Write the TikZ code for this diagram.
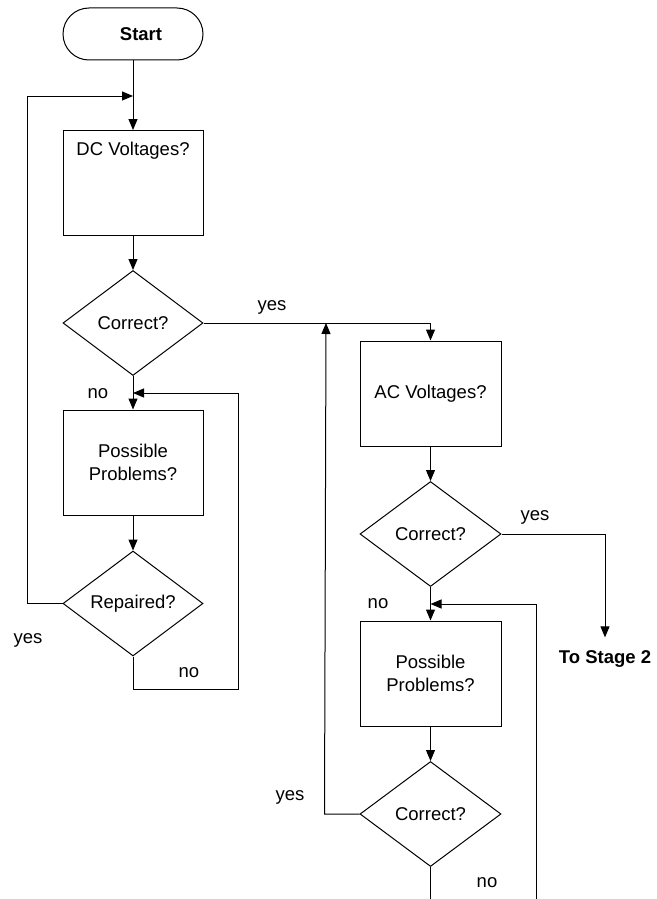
\documentclass[tikz,border=0pt]{standalone}
\usepackage{fontspec}
\setmainfont{Liberation Sans}
\usetikzlibrary{arrows.meta,shapes.geometric}
\begin{document}
\begin{tikzpicture}[x=1pt,y=-1pt,
  every node/.style={font=\fontsize{18.5}{22.5}\selectfont},
  line/.style={line width=1pt, draw=black},
  arr/.style={line, -{Triangle[length=11pt,width=9pt]}},
  stepbox/.style={draw, line width=1pt, rectangle, minimum width=140pt, minimum height=105pt, inner sep=0pt, align=center},
  topbox/.style={draw, line width=1pt, rectangle, minimum width=140pt, inner sep=4pt, text height=21pt, text depth=76pt, anchor=north},
  decision/.style={draw, line width=1pt, diamond, shape aspect=1.333, minimum width=140pt, minimum height=105pt, inner sep=0pt},
  term/.style={draw, line width=1pt, rectangle, rounded corners=26pt, minimum width=140pt, minimum height=52pt, inner sep=0pt, font=\fontsize{18.5}{22.5}\selectfont\bfseries},
  lbl/.style={inner sep=0pt}
]
\useasboundingbox (0,0) rectangle (656,899);

% left column
\node[term] (start) at (133,34) {\hspace{16pt}Start};
\node[topbox] (dc) at (133,130) {DC Voltages?};
\node[decision] (d1) at (133,323) {Correct?};
\node[stepbox] (pp1) at (133,462.5) {Possible\\Problems?};
\node[decision] (rep) at (133,603.5) {Repaired?};

% right column
\node[stepbox, minimum width=141pt] (ac) at (430.5,393.5) {AC Voltages?};
\node[decision, minimum width=141pt] (d3) at (430.5,534) {Correct?};
\node[stepbox, minimum width=141pt] (pp2) at (430.5,673.5) {Possible\\Problems?};
\node[decision, minimum width=141pt] (d4) at (430.5,814) {Correct?};
\node[anchor=base, inner xsep=0pt, inner ysep=12.5pt, font=\fontsize{18.5}{22.5}\selectfont\bfseries] (stage) at (605,663) {To Stage 2};

% junction / free-end coordinates
\coordinate (j1) at (133,96);
\coordinate (j2) at (133,393);
\coordinate (j3) at (326,323);
\coordinate (j4) at (430.5,604);
\coordinate (e1) at (536,899);
\coordinate (e2) at (430.5,899);

% connectors
\draw[arr] (start) -- (dc);
\draw[arr] (rep.west) -- ++(-35,0) |- (j1);
\draw[arr] (dc) -- (d1);
\draw[arr] (d1) -- (pp1);
\draw[arr] (rep.south) -- ++(0,32.5) -- ++(105,0) |- (j2);
\draw[arr] (pp1) -- (rep);
\draw[arr] (d1.east) -| (ac.north);
\draw[arr] (d4.west) -- ++(-35,0) -- (j3);
\draw[arr] (ac) -- (d3);
\draw[arr] (d3.east) -| (stage.north);
\draw[arr] (d3) -- (pp2);
\draw[arr] (e1) |- (j4);
\draw[arr] (pp2) -- (d4);
\draw[line] (d4.south) -- (e2);

% labels
\node[lbl] (l1) at (272,307) {yes};
\node[lbl] (l2) at (98,394) {no};
\node[lbl] (l3) at (28,640) {yes};
\node[lbl] (l4) at (189,673) {no};
\node[lbl] (l5) at (535,517) {yes};
\node[lbl] (l6) at (378,604) {no};
\node[lbl] (l7) at (290,797) {yes};
\node[lbl] (l8) at (487,883) {no};
\end{tikzpicture}
\end{document}
